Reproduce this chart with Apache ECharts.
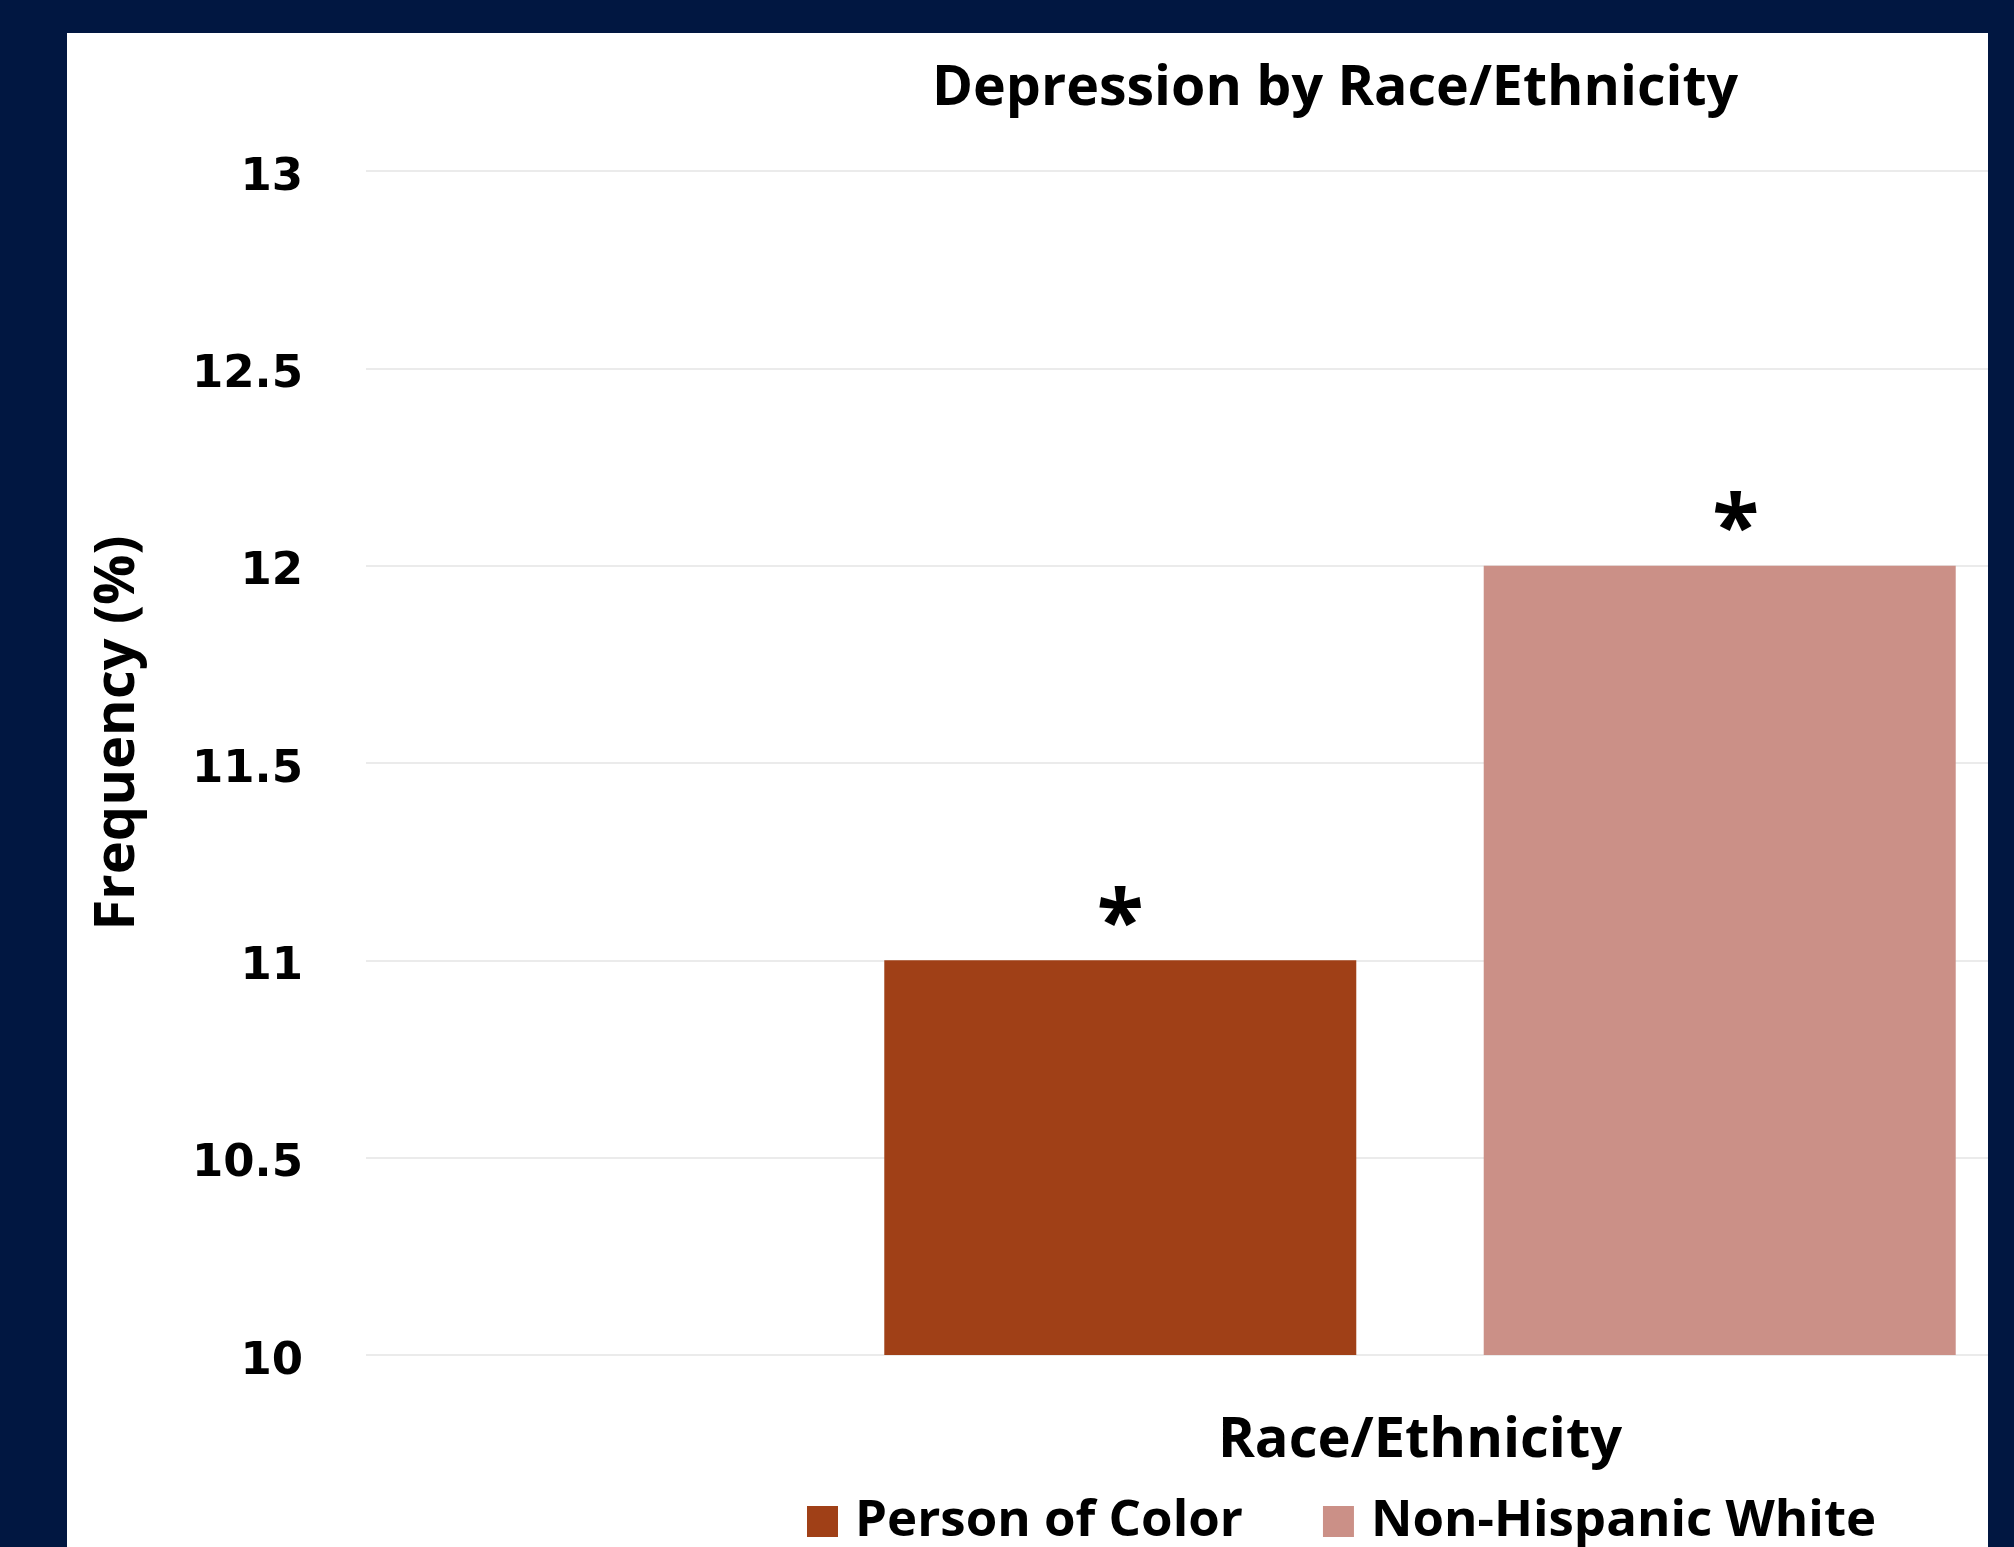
<!DOCTYPE html>
<html>
<head>
<meta charset="utf-8">
<title>Depression by Race/Ethnicity</title>
<script src="https://cdn.jsdelivr.net/npm/echarts@6/dist/echarts.min.js"></script>
<style>
  html, body { margin: 0; padding: 0; width: 2014px; height: 1547px; background: #011741; overflow: hidden; }
  #panel { position: absolute; left: 67px; top: 33px; width: 1921px; height: 1514px; background: #ffffff; overflow: hidden; }
  #chart { position: absolute; left: 0; top: 0; width: 2600px; height: 1514px; }
</style>
</head>
<body>
<div id="panel"><div id="chart"></div></div>
<script>
// Depression frequency (%) by race/ethnicity
const groupLabel = ['Race/Ethnicity'];
const seriesNames = ['Person of Color', 'Non-Hispanic White'];
const personOfColor = [11];
const nonHispanicWhite = [12];
const significanceMarks = ['*', '*'];
const seriesColors = ['#A04017', '#CB9087'];
const yMin = 10, yMax = 13, yStep = 0.5;

const labelFont = '"Open Sans", "Liberation Sans", sans-serif';
const tickFont = '"DejaVu Sans", sans-serif';

const chart = echarts.init(document.getElementById('chart'), null, { renderer: 'canvas' });

// significance mark sits a touch right of centre on the second bar
const markOffsets = [[0, 0], [16, 0]];

function barSeries(idx, values) {
  return {
    name: seriesNames[idx],
    type: 'bar',
    data: values,
    barWidth: 472,
    barGap: '27%',
    itemStyle: { color: seriesColors[idx] },
    label: {
      show: true,
      position: 'top',
      distance: -10,
      offset: markOffsets[idx],
      formatter: significanceMarks[idx],
      fontFamily: labelFont,
      fontWeight: 'bold',
      fontSize: 86,
      color: '#000000'
    }
  };
}

chart.setOption({
  animation: false,
  backgroundColor: '#ffffff',
  title: {
    text: 'Depression by Race/Ethnicity',
    left: 1263,
    top: 23,
    textAlign: 'center',
    textStyle: { fontFamily: labelFont, fontWeight: 'bold', fontSize: 55.5, color: '#000000' }
  },
  legend: {
    data: seriesNames,
    left: 735,
    top: 1458,
    itemWidth: 31,
    itemHeight: 31,
    itemGap: 80,
    icon: 'rect',
    textStyle: { fontFamily: labelFont, fontWeight: 'bold', fontSize: 51, color: '#000000', padding: [0, 0, 0, 12] }
  },
  grid: { left: 299, top: 138, width: 2108, height: 1184 },
  xAxis: {
    type: 'category',
    data: groupLabel,
    name: 'Race/Ethnicity',
    nameLocation: 'middle',
    nameGap: 58,
    nameTextStyle: { fontFamily: labelFont, fontWeight: 'bold', fontSize: 56, color: '#000000' },
    axisLine: { show: false },
    axisTick: { show: false },
    axisLabel: { show: false }
  },
  yAxis: {
    type: 'value',
    min: yMin,
    max: yMax,
    interval: yStep,
    axisLine: { show: false },
    axisTick: { show: false },
    axisLabel: {
      margin: 63,
      fontFamily: tickFont,
      fontWeight: 'bold',
      fontSize: 45,
      verticalAlign: 'top',
      lineHeight: 14,
      color: '#000000'
    },
    splitLine: { lineStyle: { color: '#E4E4E4', width: 1.5 } }
  },
  graphic: [{
    type: 'text',
    x: 51,
    y: 700,
    rotation: Math.PI / 2,
    style: {
      text: 'Frequency (%)',
      fontFamily: labelFont,
      fontWeight: 'bold',
      fontSize: 56,
      fill: '#000000',
      align: 'center',
      verticalAlign: 'middle'
    }
  }],
  series: [barSeries(0, personOfColor), barSeries(1, nonHispanicWhite)]
});
</script>
</body>
</html>
